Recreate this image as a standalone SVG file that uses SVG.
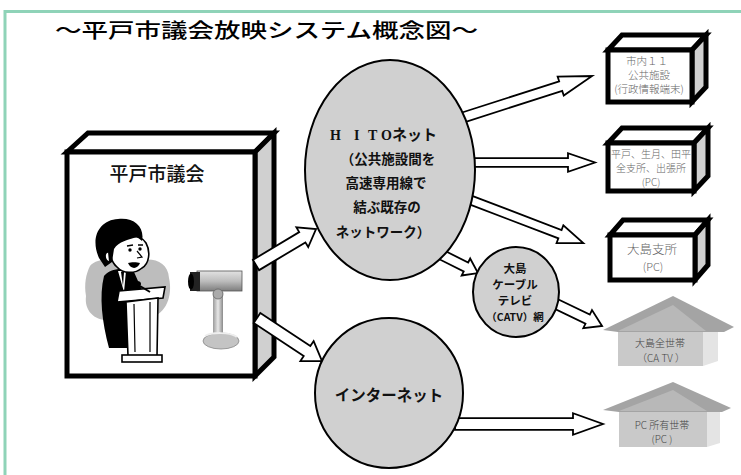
<svg xmlns="http://www.w3.org/2000/svg" width="741" height="475" viewBox="0 0 741 475">
  <style>
    .frame { fill: #fff; stroke: #8fd3b8; stroke-width: 3; }
    .arrow { fill: #fff; stroke: #000; stroke-width: 1.8; stroke-linejoin: miter; }
    .face { fill: #fff; stroke: #000; stroke-width: 5; stroke-linejoin: miter; }
    .side { fill: #d0d0d0; stroke: #000; stroke-width: 5; stroke-linejoin: miter; }
    .net { fill: #d0d0d0; stroke: #000; stroke-width: 2; }
    .ink { fill: #000; }
    .jp { font-family: "Noto Sans CJK JP", "Noto Sans", sans-serif; }
    .netlabel { font-family: "Noto Sans CJK JP", sans-serif; font-weight: 700; fill: #111; text-anchor: middle; }
    .boxlabel { font-family: "Noto Sans CJK JP", sans-serif; font-weight: 300; fill: #666; text-anchor: middle; }
    .houselabel { font-family: "Noto Sans CJK JP", sans-serif; font-weight: 300; fill: #444; text-anchor: middle; font-size: 10px; }
    .roof { fill: #a4a4a4; }
    .gable { fill: #b8b8b8; }
    .wall { fill: #c9c9c9; }
    .wallside { fill: #e4e4e4; }
  </style>
  <defs>
    <linearGradient id="camBody" x1="0" y1="0" x2="0" y2="1">
      <stop offset="0" stop-color="#e2e2e2"/>
      <stop offset="0.5" stop-color="#bdbdbd"/>
      <stop offset="1" stop-color="#7d7d7d"/>
    </linearGradient>
    <linearGradient id="camStand" x1="0" y1="0" x2="1" y2="0">
      <stop offset="0" stop-color="#9a9a9a"/>
      <stop offset="0.5" stop-color="#e8e8e8"/>
      <stop offset="1" stop-color="#8a8a8a"/>
    </linearGradient>
  </defs>

  <!-- page frame -->
  <rect class="frame" x="5" y="11.5" width="750" height="480"/>

  <!-- title -->
  <text id="title" class="jp" x="55" y="38" font-size="20" font-weight="500" textLength="423" lengthAdjust="spacingAndGlyphs" fill="#000">～平戸市議会放映システム概念図～</text>

  <!-- council chamber building with speaker and camera -->
  <g id="council">
    <polygon class="face" points="67,152 88,133 274,133 255,152"/>
    <polygon class="side" points="255,152 274,133 274,357 255,376"/>
    <rect class="face" x="67" y="152" width="188" height="224"/>
    <text class="jp" x="157" y="181" font-size="19" font-weight="500" text-anchor="middle" fill="#111">平戸市議会</text>

    <!-- backdrop -->
    <path d="M90,266 C98,256 118,260 134,262 C150,256 168,260 169,278 C173,296 166,314 150,318 L112,320 C96,322 84,312 86,296 C84,284 86,274 90,266 Z" fill="#bdbdbd"/>
    <!-- speaker -->
    <path d="M104,276 C110,268 124,267 134,272 L142,290 L128,300 L129,348 L109,348 C102,322 99,296 104,276 Z" class="ink"/>
    <path d="M118,271 L126,271 L124,292 Z" fill="#fff"/>
    <path d="M121,272 L124,272 L123,286 Z" class="ink"/>
    <path d="M112,244 C120,235 140,233 146,243 C151,252 149,264 142,268 C135,274 123,274 117,267 C111,262 109,253 112,244 Z" fill="#fff" stroke="#000" stroke-width="1.6"/>
    <path d="M99,258 C90,238 99,220 118,219 C134,217 145,227 142,241 L137,237 C128,240 119,241 114,249 L112,262 L105,267 Z" class="ink"/>
    <path d="M108,252 C104,252 104,260 109,262" fill="#fff" stroke="#000" stroke-width="1.5"/>
    <circle cx="130" cy="250" r="1.7" class="ink"/>
    <circle cx="140" cy="249" r="1.7" class="ink"/>
    <path d="M127,246 L133,245 M138,245 L143,245" stroke="#000" stroke-width="1.4"/>
    <path d="M137,251 L142,257 L137,258" fill="none" stroke="#000" stroke-width="1.2"/>
    <path d="M128,263 C131,262 137,262 140,263 C138,269 131,270 128,263 Z" class="ink"/>
    <!-- podium -->
    <polygon points="119,291 165,287 163,298 117,302" fill="#fff" stroke="#000" stroke-width="1.6"/>
    <polygon points="126,302 158,298 157,356 128,356" fill="#fff" stroke="#000" stroke-width="1.6"/>
    <path d="M134,304 L135,352 M150,302 L150,352" stroke="#000" stroke-width="1.2"/>
    <rect x="122" y="355" width="40" height="7" fill="#fff" stroke="#000" stroke-width="1.6"/>
    <!-- microphone -->
    <path d="M140,286 L150,292" stroke="#000" stroke-width="2"/>
    <ellipse cx="137" cy="284" rx="4" ry="3" class="ink"/>
    <!-- camera -->
    <rect x="197" y="271" width="45" height="20" fill="url(#camBody)" stroke="#555" stroke-width="0.8"/>
    <rect x="190" y="272" width="10" height="19" fill="#222"/>
    <ellipse cx="191" cy="281.5" rx="3" ry="8" fill="#000"/>
    <rect x="213" y="292" width="10" height="42" fill="url(#camStand)"/>
    <circle cx="218" cy="294" r="5" fill="#aaa" stroke="#666" stroke-width="0.8"/>
    <ellipse cx="221" cy="341" rx="18" ry="8" fill="#c4c4c4" stroke="#888" stroke-width="0.8"/>
    <path d="M205,336 C212,332 230,332 237,337" fill="none" stroke="#eee" stroke-width="2"/>
  </g>

  <!-- connectors -->
  <g id="connectors">
    <path class="arrow" transform="translate(256,265) rotate(-30.96)" d="M0,-6H54V-11.5L70,0L54,11.5V6H0Z"/>
    <path class="arrow" transform="translate(257,318) rotate(33.5)" d="M0,-6H60V-12L78,0L60,12V6H0Z"/>
    <path class="arrow" transform="translate(455,120) rotate(-17.8)" d="M0,-5H111V-10L144,0L111,10V5H0Z"/>
    <path class="arrow" transform="translate(460,162.5)" d="M0,-4.3H108V-9.3L135,0L108,9.3V4.3H0Z"/>
    <path class="arrow" transform="translate(460,196) rotate(20.9)" d="M0,-4.5H107V-9.5L132,0L107,9.5V4.5H0Z"/>
    <path class="arrow" transform="translate(440,254) rotate(26.6)" d="M0,-5H29V-9.5L42.5,0L29,9.5V5H0Z"/>
    <path class="arrow" transform="translate(548,300) rotate(25.7)" d="M0,-5H44V-10L60,0L44,10V5H0Z"/>
    <path class="arrow" transform="translate(455,424)" d="M0,-5.8H118V-10.8L148,0L118,10.8V5.8H0Z"/>
  </g>

  <!-- HITO network -->
  <g id="hito">
    <ellipse class="net" cx="390" cy="170" rx="85" ry="110"/>
    <text font-family="'Liberation Serif', serif" font-weight="700" font-size="14" fill="#111" y="140"><tspan x="330">H</tspan><tspan x="354">I</tspan><tspan x="368">T</tspan><tspan x="381">O</tspan></text>
    <text class="jp" x="392" y="140" font-size="15" font-weight="700" fill="#111">ネット</text>
    <text class="netlabel" x="388" y="164" font-size="13.5">（公共施設間を</text>
    <text class="netlabel" x="386" y="188" font-size="13.5">高速専用線で</text>
    <text class="netlabel" x="387" y="212" font-size="13.5">結ぶ既存の</text>
    <text class="netlabel" x="383" y="237" font-size="13.5">ネットワーク）</text>
  </g>

  <!-- Oshima cable TV network -->
  <g id="catv">
    <ellipse class="net" cx="516" cy="292" rx="43" ry="45"/>
    <text class="netlabel" x="515" y="273" font-size="11.5">大島</text>
    <text class="netlabel" x="515" y="289" font-size="11.5">ケーブル</text>
    <text class="netlabel" x="515" y="305" font-size="11.5">テレビ</text>
    <text class="netlabel" x="515" y="321" font-size="10.5">（CATV）網</text>
  </g>

  <!-- Internet -->
  <g id="internet">
    <ellipse class="net" cx="389" cy="393" rx="74" ry="75"/>
    <text class="netlabel" x="389" y="401" font-size="15.5">インターネット</text>
  </g>

  <!-- public facility terminals -->
  <g id="facilities">
    <polygon class="face" points="608,50 622,35 706,35 692,50"/>
    <polygon class="side" points="692,50 706,35 706,87 692,102"/>
    <rect class="face" x="608" y="50" width="84" height="52"/>
    <text class="boxlabel" x="647" y="65" font-size="10.5">市内１１</text>
    <text class="boxlabel" x="649" y="79" font-size="10.5">公共施設</text>
    <text class="boxlabel" x="649" y="93" font-size="10.5">(行政情報端末)</text>
  </g>

  <!-- branch offices -->
  <g id="branches">
    <polygon class="face" points="608,143 622,128 708,128 694,143"/>
    <polygon class="side" points="694,143 708,128 708,176 694,191"/>
    <rect class="face" x="608" y="143" width="86" height="48"/>
    <text class="boxlabel" x="651" y="158" font-size="10">平戸、生月、田平</text>
    <text class="boxlabel" x="651" y="172" font-size="10">全支所、出張所</text>
    <text class="boxlabel" x="651" y="186" font-size="10">(PC)</text>
  </g>

  <!-- Oshima branch -->
  <g id="oshima-branch">
    <polygon class="face" points="610,235 623,220 708,220 695,235"/>
    <polygon class="side" points="695,235 708,220 708,265 695,280"/>
    <rect class="face" x="610" y="235" width="85" height="45"/>
    <text class="boxlabel" x="652" y="254" font-size="12.5">大島支所</text>
    <text class="boxlabel" x="653" y="271" font-size="11">(PC)</text>
  </g>

  <!-- Oshima households -->
  <g id="oshima-homes">
    <rect class="wall" x="618" y="330" width="85" height="36"/>
    <polygon class="wallside" points="703,330 718,326 718,361 703,366"/>
    <polygon class="roof" points="603,330 673,296 734,327 724,332 618,332"/>
    <polygon class="gable" points="618,331 673,305 706,331"/>
    <text class="houselabel" x="660" y="347">大島全世帯</text>
    <text class="houselabel" x="661" y="362">（CA TV ）</text>
  </g>

  <!-- PC households -->
  <g id="pc-homes">
    <rect class="wall" x="619" y="410" width="88" height="37"/>
    <polygon class="wallside" points="707,410 720,406 720,443 707,447"/>
    <polygon class="roof" points="603,410 673,382 731,408 722,412 619,412"/>
    <polygon class="gable" points="619,411 673,390 707,411"/>
    <text class="houselabel" x="662" y="429">PC  所有世帯</text>
    <text class="houselabel" x="662" y="443">(PC )</text>
  </g>
</svg>
